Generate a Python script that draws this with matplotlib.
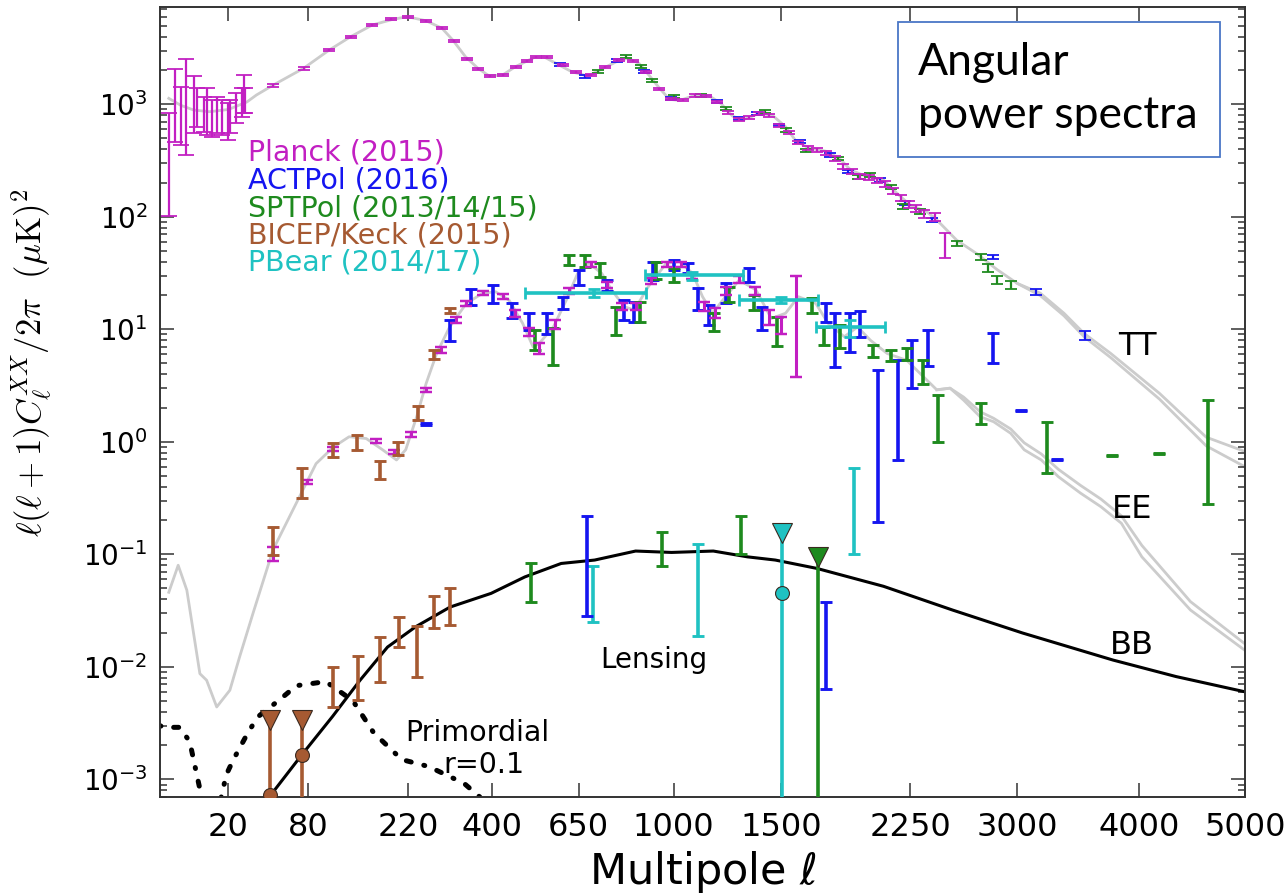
import numpy as np
import matplotlib
matplotlib.use("Agg")
import matplotlib.pyplot as plt
from matplotlib.patches import Rectangle
from matplotlib.ticker import FixedLocator, FixedFormatter, LogFormatterSciNotation, NullFormatter, NullLocator

# ---- theory curves (ell, D_ell in uK^2) ----
tt_ell = [2, 4, 7, 12, 20, 30, 36, 48, 75, 103, 130, 161, 194, 219, 254, 286, 309, 337, 366,
          393, 427, 461, 515, 541, 578, 627, 680, 721, 786, 821, 863, 901, 943, 983, 1025,
          1094, 1154, 1206, 1260, 1307, 1390, 1455, 1523, 1574, 1647, 1754, 1827, 1884, 1981,
          2082, 2165, 2250, 2358, 2425, 2561, 2703, 2849, 3000, 3176, 3365, 3529, 3754, 4183,
          4620, 5000]
tt_D = [1130, 980, 890, 860, 900, 1050, 1210, 1480, 2090, 3040, 3990, 5070, 5700, 6010, 5530,
        4740, 3720, 2650, 2090, 1790, 1820, 2160, 2620, 2650, 2310, 1950, 1780, 2020, 2440,
        2570, 2310, 1820, 1390, 1110, 1080, 1210, 1190, 1020, 787, 725, 830, 800, 632, 481,
        407, 380, 320, 260, 227, 212, 162, 127, 111, 94, 62, 47, 34, 25.6, 21, 13.9, 9.2, 6.1,
        2.7, 1.1, 0.82]
tt2_ell = [3000, 3176, 3365, 3529, 3754, 4183, 4620, 5000]
tt2_D = [25.6, 20, 13.2, 8.6, 5.6, 2.4, 0.92, 0.60]

ee_ell = [2, 3.5, 5.3, 8.8, 11, 14.8, 20.7, 25.8, 33.8, 48, 71, 88, 108, 128, 152, 177, 200,
          216, 236, 254, 275, 302, 339, 377, 409, 444, 481, 510, 528, 570, 610, 651, 684, 727,
          762, 808, 845, 899, 970, 1025, 1080, 1124, 1169, 1215, 1292, 1373, 1450, 1523, 1591,
          1685, 1754, 1846, 1924, 2001, 2104, 2228, 2313, 2425, 2515, 2609, 2727, 2824, 2951,
          3053, 3185, 3320, 3500, 3670, 3845, 4025, 4470, 5000]
ee_D = [0.046, 0.080, 0.048, 0.0087, 0.0076, 0.0044, 0.0062, 0.0123, 0.030, 0.11, 0.325, 0.64,
        0.90, 1.11, 1.07, 0.85, 0.69, 0.85, 1.67, 3.3, 6.1, 10.5, 17, 20.9, 21.6, 18.2, 11.3,
        7.0, 7.5, 10.5, 18.2, 33.7, 38.6, 31.5, 22.4, 15.9, 14.8, 24, 38.6, 40, 31.5, 19.5,
        13.9, 18.2, 27.4, 22.4, 12.5, 13.9, 19.5, 17, 11.3, 8.6, 10.5, 8.0, 6.1, 5.3, 4.07,
        2.9, 3.0, 2.35, 1.67, 1.51, 1.19, 0.85, 0.69, 0.49, 0.35, 0.265, 0.189, 0.095, 0.032,
        0.014]
ee2_ell = [2425, 2515, 2609, 2727, 2824, 2951, 3053, 3185, 3320, 3500, 3670, 3845, 4025, 4470, 5000]
ee2_D = [2.9, 3.0, 2.5, 1.85, 1.62, 1.3, 0.98, 0.78, 0.57, 0.41, 0.31, 0.22, 0.12, 0.038, 0.016]

bb_ell = [40, 46, 73, 107, 143, 185, 234, 303, 398, 487, 594, 703, 850, 992, 1172, 1332, 1470,
          1691, 2081, 2532, 3040, 3772, 4335, 5000]
bb_D = [5e-4, 7.2e-4, 1.64e-3, 3.63e-3, 7.6e-3, 0.015, 0.0227, 0.034, 0.045, 0.063, 0.083,
        0.089, 0.107, 0.104, 0.107, 0.095, 0.089, 0.075, 0.052, 0.032, 0.020, 0.0115, 0.0082,
        0.006]

prim_ell = [1, 1.4, 3.8, 6, 7.8, 8.8, 10, 12, 16, 19, 22.3, 30.6, 37, 46, 56, 68, 99, 133, 163,
            209, 259, 334, 380, 420]
prim_D = [0.0030, 0.0029, 0.0029, 0.00216, 0.00113, 8.2e-4, 5e-4, 3e-4, 6e-4, 0.0011, 0.00148,
          0.0026, 0.0036, 0.0044, 0.0054, 0.0068, 0.0074, 0.0050, 0.0026, 0.0015, 0.0013,
          9.2e-4, 6.5e-4, 4e-4]

# ---- TT band powers ----
planck_lo_ell = [2, 3, 4, 5, 7, 8, 10, 11, 13, 15, 17, 20, 21, 24, 27, 28, 29]
planck_lo_min = [101, 462, 435, 354, 556, 628, 571, 533, 515, 552, 533, 481, 552, 678, 776, 837, 832]
planck_lo_max = [837, 2060, 1434, 2510, 1785, 1396, 1168, 1388, 1092, 1168, 1092, 1020, 1092,
                 1253, 1388, 1820, 1388]

planck_tt_ell = [48, 75, 103, 130, 161, 190, 220, 254, 286, 312, 340, 366, 395, 427, 462, 492,
                 520, 550, 600, 640, 690, 740, 790, 840, 890, 940, 990, 1040, 1090, 1140, 1190,
                 1240, 1290, 1340, 1390, 1440, 1490, 1540, 1590, 1640, 1690, 1740, 1790, 1840,
                 1890, 1940, 1990, 2040, 2090, 2140, 2190, 2240, 2290, 2340, 2410, 2480]
planck_tt = [1480, 2090, 3040, 3990, 5070, 5700, 6010, 5530, 4740, 3650, 2550, 2080, 1790, 1820,
             2160, 2450, 2620, 2640, 2220, 1920, 1810, 2150, 2470, 2430, 1920, 1360, 1110, 1090,
             1200, 1190, 1050, 850, 740, 760, 830, 790, 650, 560, 460, 410, 395, 370, 330, 280,
             255, 230, 222, 212, 196, 170, 148, 128, 118, 106, 100, 58]
planck_tt_err = [0.03, 0.025, 0.02, 0.02, 0.02, 0.02, 0.02, 0.02, 0.02, 0.02, 0.02, 0.02, 0.02,
                 0.02, 0.02, 0.02, 0.02, 0.02, 0.02, 0.02, 0.02, 0.02, 0.02, 0.02, 0.02, 0.02,
                 0.025, 0.025, 0.025, 0.025, 0.025, 0.03, 0.03, 0.03, 0.03, 0.03, 0.03, 0.035,
                 0.035, 0.04, 0.04, 0.04, 0.045, 0.045, 0.05, 0.05, 0.05, 0.05, 0.06, 0.06, 0.06,
                 0.07, 0.07, 0.08, 0.08, 0.25]

act_tt_ell = [589, 672, 780, 882, 990, 1190, 1290, 1380, 1490, 1600, 1765, 1865, 2060, 2215,
              2390, 2820, 3140, 3535]
act_tt = [2270, 1780, 2440, 1950, 1130, 1055, 750, 830, 655, 465, 354, 252, 212, 132, 94, 44,
          21.6, 8.9]
act_tt_err = [0.03, 0.03, 0.03, 0.03, 0.03, 0.03, 0.03, 0.03, 0.03, 0.03, 0.035, 0.035, 0.04,
              0.04, 0.04, 0.05, 0.06, 0.09]

spt_tt_ell = [715, 815, 870, 915, 1000, 1115, 1230, 1420, 1523, 1630, 1810, 1925, 2000, 2130,
              2205, 2315, 2560, 2730, 2780, 2850, 2950]
spt_tt = [1950, 2650, 2160, 1640, 1170, 1210, 920, 860, 590, 390, 330, 227, 235, 185, 123, 111,
          58, 44, 35, 27.5, 25]
spt_tt_err = [0.03, 0.03, 0.03, 0.03, 0.03, 0.03, 0.03, 0.03, 0.035, 0.035, 0.04, 0.04, 0.04,
              0.045, 0.05, 0.05, 0.06, 0.07, 0.08, 0.08, 0.08]

# ---- EE band powers (lower / upper end of each bar) ----
planck_ee_ell = [48, 78, 107, 167, 196, 225, 254, 283, 315, 339, 377, 427, 461, 500, 528, 575,
                 620, 690, 745, 800, 850, 910, 975, 1030, 1080, 1130, 1180, 1230, 1290, 1370,
                 1440, 1500, 1580]
planck_ee_min = [0.087, 0.42, 0.83, 0.98, 0.78, 1.10, 2.75, 6.1, 11.3, 16, 20, 18.5, 13, 8.7,
                 6.0, 10, 20.5, 36, 23.5, 15, 15, 25.5, 36, 36, 28, 14.5, 12.5, 20, 26, 20, 11,
                 9, 3.8]
planck_ee_max = [0.117, 0.46, 0.90, 1.05, 0.85, 1.23, 3.0, 6.9, 12.8, 18, 22, 20.5, 15, 10.3,
                 7.6, 12, 23.5, 40, 26.5, 17, 17, 28.5, 40, 40, 32, 17.5, 15.5, 24, 30, 24, 15,
                 13, 30]

act_ee_ell = [254, 302, 350, 402, 452, 500, 550, 600, 651, 745, 808, 845, 918, 1000, 1060, 1106,
              1154, 1230, 1340, 1405, 1740, 1790, 1880, 1940, 2045, 2170, 2260, 2365, 2820,
              3025, 3310]
act_ee_min = [1.42, 7.8, 16.3, 17.2, 12.6, 9.9, 9.0, 15.3, 24.8, 21.7, 12.1, 11.7, 27.5, 33.7,
              31.5, 15, 10.9, 17, 26.4, 9.9, 11.7, 4.6, 6.3, 8.6, 0.195, 0.69, 3.0, 4.7, 5.0,
              1.87, 0.69]
act_ee_max = [1.48, 12.2, 22.7, 24.8, 17, 14.1, 14, 19.5, 33.7, 27.5, 18.2, 17.6, 40, 41.5, 38.7,
              23.2, 16.4, 25.8, 35, 15.9, 17, 14, 14, 14.5, 4.34, 5.3, 8.0, 9.9, 9.3, 1.93,
              0.71]

spt_ee_ell = [517, 570, 620, 672, 721, 776, 865, 931, 1000, 1177, 1245, 1365, 1480, 1665, 1730,
              1820, 2015, 2130, 2230, 2335, 2430, 2730, 3230, 3760, 4180, 4640]
spt_ee_min = [6.5, 4.8, 37.5, 36, 29.4, 8.9, 11.7, 28.3, 26.4, 9.6, 17.6, 14.8, 7.1, 13.9, 7.2,
              6.8, 5.7, 5.2, 5.3, 3.3, 1.0, 1.44, 0.53, 0.75, 0.78, 0.28]
spt_ee_max = [9.9, 10.2, 46, 46, 38.7, 15.9, 17.6, 40, 35, 14, 24, 20.2, 13, 18.8, 10.5, 10.9,
              7.2, 6.6, 6.8, 5.3, 2.6, 2.2, 1.5, 0.77, 0.80, 2.34]

bk_ee_ell = [48, 73, 108, 139, 173, 203, 238, 270, 302]
bk_ee_min = [0.099, 0.314, 0.73, 0.85, 0.47, 0.77, 1.55, 5.4, 13.9]
bk_ee_max = [0.176, 0.58, 0.98, 1.14, 0.68, 1.0, 2.1, 6.6, 15.6]

pb_ee_ell = [700, 1080, 1500, 1880]
pb_ee_left = [487, 884, 1290, 1685]
pb_ee_right = [890, 1310, 1700, 2090]
pb_ee = [21, 30.4, 18.2, 10.5]
pb_ee_min = [19.4, 27.4, 17, 8.6]
pb_ee_max = [22.7, 32.5, 19.5, 12.1]

# ---- BB band powers ----
bk_bb_ell = [107, 140, 173, 205, 236, 270, 303]
bk_bb_min = [0.0044, 0.0051, 0.0074, 0.0151, 0.0081, 0.0223, 0.0236]
bk_bb_max = [0.010, 0.0124, 0.0186, 0.028, 0.0232, 0.0427, 0.0506]
bk_bb_lim_ell = [46, 73]
bk_bb_lim = [3.4e-3, 3.4e-3]
bk_bb_lim_val = [7.2e-4, 1.64e-3]

spt_bb_ell = [505, 953, 1300]
spt_bb_min = [0.038, 0.0795, 0.10]
spt_bb_max = [0.083, 0.158, 0.22]
spt_bb_lim_ell = [1700]
spt_bb_lim = [0.095]

pb_bb_ell = [698, 1106, 1900]
pb_bb_min = [0.0253, 0.0189, 0.10]
pb_bb_max = [0.0795, 0.123, 0.585]
pb_bb_lim_ell = [1506]
pb_bb_lim = [0.155]
pb_bb_lim_val = [0.045]

act_bb_ell = [678, 1742]
act_bb_min = [0.0284, 0.0063]
act_bb_max = [0.22, 0.0377]

ell_ticks = [20, 80, 220, 400, 650, 1000, 1500, 2250, 3000, 4000, 5000]
decades = [1e-3, 1e-2, 1e-1, 1e0, 1e1, 1e2, 1e3]

c_planck = '#c21fc2'
c_act = '#1515f0'
c_spt = '#1e8a1e'
c_bk = '#a65a32'
c_pb = '#1fc2c2'
c_theory = '#cccccc'


def fwd(x):
    return np.abs(x) ** 0.45


def inv(x):
    return np.abs(x) ** (1 / 0.45)


def bars(ax, ell, lo, hi, color, lw=2.6, cap=4.5, z=3):
    lo = np.asarray(lo, float)
    hi = np.asarray(hi, float)
    mid = np.sqrt(lo * hi)
    ax.errorbar(ell, mid, yerr=[mid - lo, hi - mid], fmt='none', ecolor=color,
                elinewidth=lw, capsize=cap, capthick=lw * 0.8, zorder=z)


def rel_bars(ax, ell, val, err, color, lw=1.6, cap=4.5, z=3):
    val = np.asarray(val, float)
    err = np.asarray(err, float)
    bars(ax, ell, val * (1 - err), val * (1 + err), color, lw=lw, cap=cap, z=z)


def upper_limits(ax, ell, lim, color, val=None):
    ax.vlines(ell, 1e-5, lim, colors=color, lw=2.6, zorder=4)
    ax.plot(ell, lim, 'v', ms=15, color=color, mec='#3a2a20', mew=0.8, zorder=5)
    if val is not None:
        ax.plot(ell, val, 'o', ms=10, color=color, mec='#3a2a20', mew=0.8, zorder=5)


W, H = 1288, 894
fig = plt.figure(figsize=(W / 100, H / 100), dpi=100)
ax = fig.add_axes([160 / W, 1 - 797 / H, 1085 / W, 790 / H])
ax.set_xscale('function', functions=(fwd, inv))
ax.set_yscale('log')

# theory spectra
ax.plot(tt_ell, tt_D, color=c_theory, lw=2, zorder=1)
ax.plot(tt2_ell, tt2_D, color=c_theory, lw=2, zorder=1)
ax.plot(ee_ell, ee_D, color=c_theory, lw=2, zorder=1)
ax.plot(ee2_ell, ee2_D, color=c_theory, lw=2, zorder=1)
ax.plot(bb_ell, bb_D, color='black', lw=2.2, zorder=2)
ax.plot(prim_ell, prim_D, color='black', lw=3.6, dashes=(0.2, 2.6, 1.0, 2.6),
        dash_capstyle='round', zorder=2)

# TT
bars(ax, planck_lo_ell, planck_lo_min, planck_lo_max, c_planck, lw=1.6, cap=6)
rel_bars(ax, act_tt_ell, act_tt, act_tt_err, c_act)
rel_bars(ax, spt_tt_ell, spt_tt, spt_tt_err, c_spt)
rel_bars(ax, planck_tt_ell, planck_tt, planck_tt_err, c_planck)

# EE
bars(ax, act_ee_ell, act_ee_min, act_ee_max, c_act)
bars(ax, spt_ee_ell, spt_ee_min, spt_ee_max, c_spt)
bars(ax, planck_ee_ell, planck_ee_min, planck_ee_max, c_planck, lw=2.2)
bars(ax, bk_ee_ell, bk_ee_min, bk_ee_max, c_bk)
pb = np.asarray(pb_ee_ell, float)
ax.errorbar(pb, pb_ee,
            xerr=[pb - np.asarray(pb_ee_left), np.asarray(pb_ee_right) - pb],
            yerr=[np.asarray(pb_ee) - np.asarray(pb_ee_min), np.asarray(pb_ee_max) - np.asarray(pb_ee)],
            fmt='none', ecolor=c_pb, elinewidth=2.6, capsize=4, capthick=2, zorder=4)

# BB
bars(ax, bk_bb_ell, bk_bb_min, bk_bb_max, c_bk)
bars(ax, spt_bb_ell, spt_bb_min, spt_bb_max, c_spt)
bars(ax, pb_bb_ell, pb_bb_min, pb_bb_max, c_pb)
bars(ax, act_bb_ell, act_bb_min, act_bb_max, c_act)
upper_limits(ax, bk_bb_lim_ell, bk_bb_lim, c_bk, bk_bb_lim_val)
upper_limits(ax, pb_bb_lim_ell, pb_bb_lim, c_pb, pb_bb_lim_val)
upper_limits(ax, spt_bb_lim_ell, spt_bb_lim, c_spt)

ax.set_xlim(1, 5000)
ax.set_ylim(6.97e-4, 7330)

ax.xaxis.set_major_locator(FixedLocator(ell_ticks))
ax.xaxis.set_major_formatter(FixedFormatter([str(t) for t in ell_ticks]))
ax.xaxis.set_minor_locator(NullLocator())
ax.yaxis.set_major_locator(FixedLocator(decades))
ax.yaxis.set_major_formatter(LogFormatterSciNotation())
minor_y = [m * d for d in [1e-4] + decades for m in range(2, 10)]
minor_y = [v for v in minor_y if 6.97e-4 < v < 7330]
ax.yaxis.set_minor_locator(FixedLocator(minor_y))
ax.yaxis.set_minor_formatter(NullFormatter())
ax.tick_params(which='both', direction='in', top=True, right=True, width=1.1, color='#333333')
ax.tick_params(which='major', length=10)
ax.tick_params(which='minor', length=5)
ax.tick_params(axis='x', labelsize=23, pad=11)
ax.tick_params(axis='y', labelsize=20, pad=9)
for sp in ax.spines.values():
    sp.set_linewidth(1.4)
    sp.set_color('#333333')

ax.set_xlabel(r'Multipole $\ell$', fontsize=31, labelpad=4)
ax.set_ylabel(r'$\ell(\ell+1)C_\ell^{XX}/2\pi\ \ (\mu\mathrm{K})^2$', fontsize=25,
              math_fontfamily='cm')
ax.yaxis.set_label_coords(-0.098, 0.55)

# spectrum labels
ax.text(3985, 7.1, 'TT', fontsize=23, ha='center', va='center')
ax.text(3940, 0.248, 'EE', fontsize=23, ha='center', va='center')
ax.text(3940, 0.0156, 'BB', fontsize=23, ha='center', va='center')
ax.text(920, 0.0115, 'Lensing', fontsize=20, ha='center', va='center')
ax.text(365, 0.00258, 'Primordial', fontsize=20.5, ha='center', va='center')
ax.text(381, 0.00135, 'r=0.1', fontsize=20.5, ha='center', va='center')

# experiment key
names = ['Planck (2015)', 'ACTPol (2016)', 'SPTPol (2013/14/15)', 'BICEP/Keck (2015)',
         'PBear (2014/17)']
colors = [c_planck, c_act, c_spt, c_bk, c_pb]
for i, (name, col) in enumerate(zip(names, colors)):
    fig.text(248 / W, 1 - (161 + 27.5 * i) / H, name, color=col, fontsize=20.5, va='baseline')

# title box
fig.patches.append(Rectangle((898 / W, 1 - 157 / H), 322 / W, 135 / H, transform=fig.transFigure,
                             facecolor='white', edgecolor='#4a76c6', lw=1.3, zorder=10))
fig.text(918 / W, 1 - 75 / H, 'Angular', fontsize=32, family='Lato', va='baseline', zorder=11)
fig.text(918 / W, 1 - 128 / H, 'power spectra', fontsize=32, family='Lato', va='baseline',
         zorder=11)

fig.savefig('out.png', dpi=100)
